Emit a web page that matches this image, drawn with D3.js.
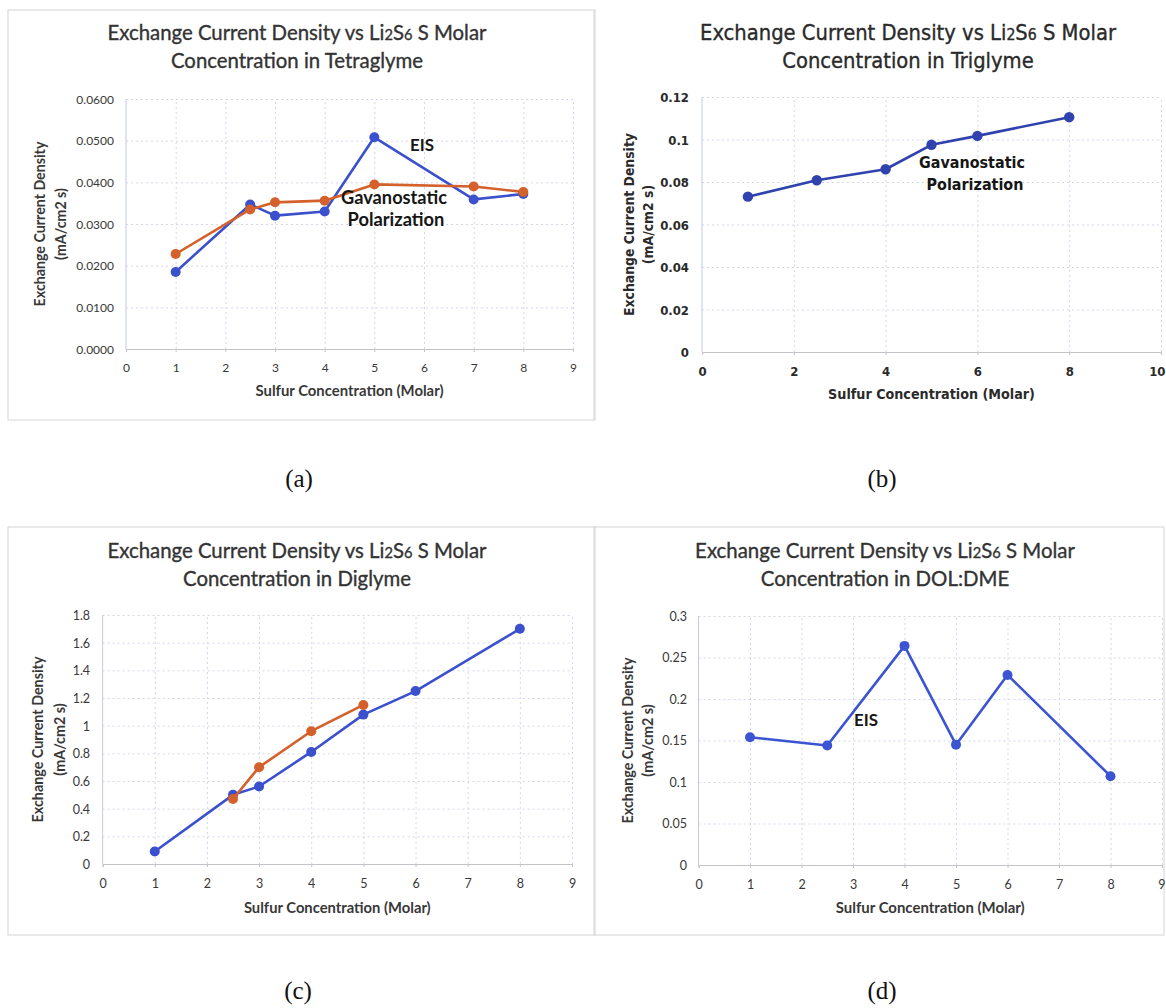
<!DOCTYPE html>
<html><head><meta charset="utf-8">
<script src="https://cdn.jsdelivr.net/npm/d3@7"></script>
<style>body{margin:0;background:#fff;} svg{display:block}</style>
</head><body>
<svg id="chart" width="1166" height="1008"></svg>
<script>
// ---------------- DATA ----------------
// (a) Tetraglyme
const xTetra = [1, 2.5, 3, 4, 5, 7, 8];
const eisTetra = [0.0185, 0.0347, 0.0320, 0.0330, 0.0508, 0.0359, 0.0372];
const galvTetra = [0.0228, 0.0335, 0.0352, 0.0356, 0.0395, 0.0390, 0.0377];
const xTicksTetra = [0, 1, 2, 3, 4, 5, 6, 7, 8, 9];
const yTicksTetra = [0, 0.01, 0.02, 0.03, 0.04, 0.05, 0.06];
const yLabelsTetra = ["0.0000", "0.0100", "0.0200", "0.0300", "0.0400", "0.0500", "0.0600"];
// (b) Triglyme
const xTri = [1, 2.5, 4, 5, 6, 8];
const galvTri = [0.0731, 0.0808, 0.0860, 0.0975, 0.1017, 0.1105];
const xTicksTri = [0, 2, 4, 6, 8, 10];
const yTicksTri = [0, 0.02, 0.04, 0.06, 0.08, 0.1, 0.12];
const yLabelsTri = ["0", "0.02", "0.04", "0.06", "0.08", "0.1", "0.12"];
// (c) Diglyme
const xDiEis = [1, 2.5, 3, 4, 5, 6, 8];
const eisDi = [0.09, 0.50, 0.56, 0.81, 1.08, 1.25, 1.70];
const xDiGalv = [2.5, 3, 4, 5];
const galvDi = [0.47, 0.70, 0.96, 1.15];
const xTicksDi = [0, 1, 2, 3, 4, 5, 6, 7, 8, 9];
const yTicksDi = [0, 0.2, 0.4, 0.6, 0.8, 1, 1.2, 1.4, 1.6, 1.8];
const yLabelsDi = ["0", "0.2", "0.4", "0.6", "0.8", "1", "1.2", "1.4", "1.6", "1.8"];
// (d) DOL:DME
const xDol = [1, 2.5, 4, 5, 6, 8];
const eisDol = [0.154, 0.144, 0.264, 0.145, 0.229, 0.107];
const xTicksDol = [0, 1, 2, 3, 4, 5, 6, 7, 8, 9];
const yTicksDol = [0, 0.05, 0.1, 0.15, 0.2, 0.25, 0.3];
const yLabelsDol = ["0", "0.05", "0.1", "0.15", "0.2", "0.25", "0.3"];

const titleLine1 = ["Exchange Current Density vs Li", "2", "S", "6", " S Molar"];
const xTitle = "Sulfur Concentration (Molar)";
const yTitle1 = "Exchange Current Density";
const yTitle2 = "(mA/cm2 s)";

// ---------------- DRAW ----------------
const svg = d3.select("#chart");
const CAL = "Lato, 'Open Sans', 'Noto Sans', sans-serif";
const TAH = "'DejaVu Sans Condensed', 'DejaVu Sans', sans-serif";
const W = 1166;

function fit(sel, target) {
  const w = sel.node().getComputedTextLength();
  const fs = parseFloat(sel.attr("font-size"));
  if (w > 0) sel.attr("font-size", fs * target / w);
  return parseFloat(sel.attr("font-size"));
}

function drawPanel(p) {
  const g = svg.append("g");
  if (p.frame) {
    g.append("rect").attr("x", p.frame[0]).attr("y", p.frame[1])
      .attr("width", p.frame[2] - p.frame[0]).attr("height", p.frame[3] - p.frame[1])
      .attr("fill", "none").attr("stroke", "#d4d4d8").attr("stroke-width", 1);
  }
  const x = d3.scaleLinear().domain(p.xDomain).range([p.x0, p.x1]);
  const y = d3.scaleLinear().domain(p.yDomain).range([p.y0, p.y1]);

  // grid
  g.append("g").attr("transform", `translate(0,${p.y0})`)
    .call(d3.axisBottom(x).tickValues(p.xTicks.filter(v => v !== p.xDomain[0])).tickSize(-(p.y0 - p.y1)).tickFormat(""))
    .call(s => { s.select(".domain").remove(); s.selectAll("line").attr("stroke", "#d3d7ec").attr("stroke-dasharray", "2,3"); });
  g.append("g").attr("transform", `translate(${p.x0},0)`)
    .call(d3.axisLeft(y).tickValues(p.yTicks.filter(v => v !== p.yDomain[0])).tickSize(-(p.x1 - p.x0)).tickFormat(""))
    .call(s => { s.select(".domain").remove(); s.selectAll("line").attr("stroke", "#d3d7ec").attr("stroke-dasharray", "2,3"); });

  // left axis line
  g.append("line").attr("x1", p.x0).attr("x2", p.x0).attr("y1", p.y0).attr("y2", p.y1)
    .attr("stroke", "#c3c9e6").attr("stroke-width", 1);

  // bottom axis
  const xa = g.append("g").attr("transform", `translate(0,${p.y0})`)
    .call(d3.axisBottom(x).tickValues(p.xTicks).tickSize(3).tickFormat(d3.format("d")));
  xa.select(".domain").attr("stroke", "#c4c4c8");
  xa.selectAll(".tick line").attr("stroke", "#c4c4c8");
  xa.selectAll("text").attr("y", p.xLabOff).attr("dy", "0.35em")
    .attr("font-family", p.font).attr("font-size", p.tickSize).attr("font-weight", p.tickWeight)
    .attr("fill", p.textColor);
  xa.attr("font-family", null).attr("font-size", null);
  // keep a label that would run past the page edge fully visible
  xa.selectAll(".tick").each(function (d) {
    const t = d3.select(this).select("text");
    const half = t.node().getComputedTextLength() / 2;
    if (x(d) + half > W - 1) t.attr("text-anchor", "end").attr("x", W - 1 - x(d));
  });

  // left axis labels
  const ya = g.append("g").attr("transform", `translate(${p.x0},0)`)
    .call(d3.axisLeft(y).tickValues(p.yTicks).tickSize(0).tickPadding(p.yPad)
      .tickFormat((d, i) => p.yLabels[i]));
  ya.select(".domain").remove();
  ya.selectAll("text").attr("dy", "0.35em")
    .attr("font-family", p.font).attr("font-size", p.tickSize).attr("font-weight", p.tickWeight)
    .attr("fill", p.textColor);
  ya.attr("font-family", null).attr("font-size", null);

  // title
  const cx = p.titleX;
  const t1 = g.append("text").attr("x", cx).attr("y", p.titleY1).attr("text-anchor", "middle")
    .attr("font-family", p.font).attr("font-size", 18).attr("fill", p.titleColor)
    .attr("stroke", p.titleColor).attr("stroke-width", 0.35)
    .attr("font-weight", p.titleWeight);
  titleLine1.forEach((s, i) => {
    const ts = t1.append("tspan").text(s);
    if (i === 1 || i === 3) ts.attr("font-size", "0.72em");
  });
  const fs = fit(t1, p.titleW);
  g.append("text").attr("x", cx).attr("y", p.titleY2).attr("text-anchor", "middle")
    .attr("font-family", p.font).attr("font-size", fs).attr("fill", p.titleColor)
    .attr("stroke", p.titleColor).attr("stroke-width", 0.35)
    .attr("font-weight", p.titleWeight).text(p.title2);

  // axis titles
  const xt = g.append("text").attr("x", (p.x0 + p.x1) / 2).attr("y", p.xTitleY).attr("text-anchor", "middle")
    .attr("dy", "0.35em").attr("font-family", p.font).attr("font-size", 13).attr("font-weight", p.axisTitleWeight)
    .attr("fill", p.textColor).text(xTitle);
  fit(xt, p.xTitleW);
  const cy = (p.y0 + p.y1) / 2;
  const yt1 = g.append("text").attr("transform", `translate(${p.yTitleX1},${cy}) rotate(-90)`)
    .attr("text-anchor", "middle").attr("dy", "0.35em").attr("font-family", p.font).attr("font-size", 13)
    .attr("font-weight", p.axisTitleWeight).attr("fill", p.textColor).text(yTitle1);
  const yfs = fit(yt1, p.yTitleW);
  g.append("text").attr("transform", `translate(${p.yTitleX2},${cy}) rotate(-90)`)
    .attr("text-anchor", "middle").attr("dy", "0.35em").attr("font-family", p.font).attr("font-size", yfs)
    .attr("font-weight", p.axisTitleWeight).attr("fill", p.textColor).text(yTitle2);

  // series
  const line = d3.line().x(d => x(d[0])).y(d => y(d[1]));
  p.series.forEach(s => {
    const pts = s.xs.map((v, i) => [v, s.ys[i]]);
    g.append("path").datum(pts).attr("d", line).attr("fill", "none")
      .attr("stroke", s.color).attr("stroke-width", 2.6).attr("stroke-linejoin", "round");
    g.selectAll(null).data(pts).enter().append("circle")
      .attr("cx", d => x(d[0])).attr("cy", d => y(d[1])).attr("r", p.r).attr("fill", s.color);
  });

  // annotations
  p.notes.forEach(n => {
    const t = g.append("text").attr("x", n.x).attr("y", n.y).attr("text-anchor", "middle").attr("dy", "0.35em")
      .attr("font-family", p.font).attr("font-weight", "bold").attr("font-size", 15).attr("fill", "#161616").text(n.text);
    fit(t, n.w);
  });

  // caption
  svg.append("text").attr("x", p.capX).attr("y", p.capY).attr("text-anchor", "middle")
    .attr("font-family", "'Liberation Serif', 'Times New Roman', serif").attr("font-size", 25)
    .attr("fill", "#111").text(p.caption);
}

const BLUE = "#3a50cc", ORANGE = "#d4602b";

drawPanel({
  frame: [8, 10, 595, 420],
  xDomain: [0, 9], yDomain: [0, 0.06], x0: 126, x1: 573, y0: 349, y1: 99,
  xTicks: xTicksTetra, yTicks: yTicksTetra, yLabels: yLabelsTetra,
  font: CAL, tickSize: 12, tickWeight: "normal", textColor: "#383838", yPad: 12, xLabOff: 19,
  titleX: 297, titleY1: 40, titleY2: 68, titleW: 379, title2: "Concentration in Tetraglyme",
  titleColor: "#333", titleWeight: "normal",
  xTitleY: 391, xTitleW: 188, yTitleX1: 40, yTitleX2: 61, yTitleW: 165, axisTitleWeight: "bold",
  r: 5,
  series: [
    { xs: xTetra, ys: eisTetra, color: BLUE },
    { xs: xTetra, ys: galvTetra, color: ORANGE }
  ],
  notes: [
    { text: "EIS", x: 422, y: 145, w: 24 },
    { text: "Gavanostatic", x: 394, y: 198, w: 106 },
    { text: "Polarization", x: 396, y: 220, w: 97 }
  ],
  caption: "(a)", capX: 299, capY: 487
});

drawPanel({
  frame: null,
  xDomain: [0, 10], yDomain: [0, 0.12], x0: 702, x1: 1161, y0: 352, y1: 97,
  xTicks: xTicksTri, yTicks: yTicksTri, yLabels: yLabelsTri,
  font: TAH, tickSize: 13, tickWeight: "bold", textColor: "#2a2a2a", yPad: 13, xLabOff: 19,
  titleX: 908, titleY1: 40, titleY2: 68, titleW: 416, title2: "Concentration in Triglyme",
  titleColor: "#2a2a2a", titleWeight: "normal",
  xTitleY: 394, xTitleW: 207, yTitleX1: 629, yTitleX2: 648, yTitleW: 183, axisTitleWeight: "bold",
  r: 5.2,
  series: [
    { xs: xTri, ys: galvTri, color: "#2f42ad" }
  ],
  notes: [
    { text: "Gavanostatic", x: 972, y: 162, w: 106 },
    { text: "Polarization", x: 975, y: 184, w: 97 }
  ],
  caption: "(b)", capX: 882, capY: 487
});
// left border line of panel (b)
svg.append("line").attr("x1", 594).attr("x2", 594).attr("y1", 10).attr("y2", 420)
  .attr("stroke", "#d4d4d8");

drawPanel({
  frame: [8, 527, 595, 935],
  xDomain: [0, 9], yDomain: [0, 1.8], x0: 102.6, x1: 572, y0: 864, y1: 615,
  xTicks: xTicksDi, yTicks: yTicksDi, yLabels: yLabelsDi,
  font: CAL, tickSize: 12.5, tickWeight: "normal", textColor: "#383838", yPad: 12.5, xLabOff: 20,
  titleX: 297, titleY1: 558, titleY2: 586, titleW: 379, title2: "Concentration in Diglyme",
  titleColor: "#333", titleWeight: "normal",
  xTitleY: 908, xTitleW: 187, yTitleX1: 38, yTitleX2: 60, yTitleW: 166, axisTitleWeight: "bold",
  r: 5,
  series: [
    { xs: xDiEis, ys: eisDi, color: BLUE },
    { xs: xDiGalv, ys: galvDi, color: ORANGE }
  ],
  notes: [],
  caption: "(c)", capX: 298, capY: 999
});

drawPanel({
  frame: [594, 527, 1164, 935],
  xDomain: [0, 9], yDomain: [0, 0.3], x0: 698.5, x1: 1162, y0: 865, y1: 616,
  xTicks: xTicksDol, yTicks: yTicksDol, yLabels: yLabelsDol,
  font: CAL, tickSize: 12.5, tickWeight: "normal", textColor: "#383838", yPad: 11.5, xLabOff: 20,
  titleX: 885, titleY1: 558, titleY2: 586, titleW: 380, title2: "Concentration in DOL:DME",
  titleColor: "#333", titleWeight: "normal",
  xTitleY: 908, xTitleW: 189, yTitleX1: 628, yTitleX2: 648, yTitleW: 166, axisTitleWeight: "bold",
  r: 5,
  series: [
    { xs: xDol, ys: eisDol, color: "#3b54d2" }
  ],
  notes: [
    { text: "EIS", x: 866, y: 720, w: 24 }
  ],
  caption: "(d)", capX: 882, capY: 999
});
</script>
</body></html>
